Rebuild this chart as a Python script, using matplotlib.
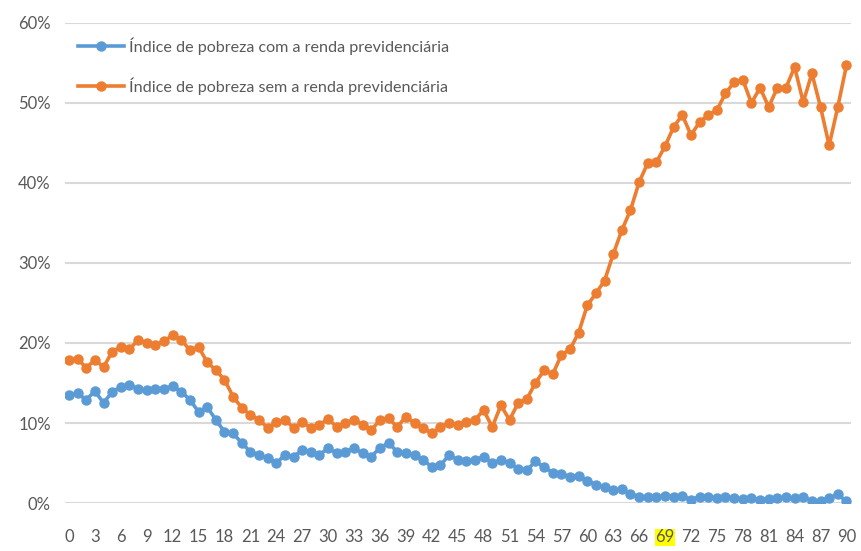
import numpy as np
import matplotlib.pyplot as plt
from matplotlib import font_manager
from matplotlib.ticker import PercentFormatter

# Lato is close to Calibri in width
names = {f.name for f in font_manager.fontManager.ttflist}
fam = 'Lato' if 'Lato' in names else 'DejaVu Sans'
plt.rcParams['font.family'] = [fam, 'DejaVu Sans']

# ages 0..90
ages = list(range(0, 91))

# poverty index with pension income (%)
com_renda = [13.5, 13.7, 12.9, 14.0, 12.5, 13.9, 14.5, 14.7, 14.3, 14.1,
             14.3, 14.3, 14.6, 13.9, 12.9, 11.4, 12.0, 10.4, 8.9, 8.7,
             7.5, 6.4, 6.0, 5.6, 5.0, 6.0, 5.8, 6.6, 6.4, 6.0,
             6.9, 6.2, 6.4, 6.9, 6.2, 5.8, 6.9, 7.5, 6.4, 6.2,
             6.0, 5.4, 4.5, 4.7, 6.0, 5.4, 5.2, 5.4, 5.8, 5.0,
             5.4, 5.0, 4.3, 4.1, 5.2, 4.5, 3.8, 3.6, 3.3, 3.4,
             2.8, 2.3, 2.0, 1.6, 1.7, 1.1, 0.8, 0.7, 0.8, 0.9,
             0.8, 0.9, 0.4, 0.8, 0.7, 0.6, 0.7, 0.6, 0.5, 0.6,
             0.4, 0.5, 0.6, 0.7, 0.6, 0.8, 0.2, 0.3, 0.6, 1.1,
             0.2]

# poverty index without pension income (%)
sem_renda = [17.9, 18.0, 16.9, 17.9, 17.0, 18.9, 19.5, 19.2, 20.4, 20.0,
             19.8, 20.2, 21.0, 20.4, 19.1, 19.5, 17.6, 16.6, 15.4, 13.3,
             11.9, 11.0, 10.4, 9.4, 10.1, 10.4, 9.4, 10.1, 9.4, 9.8,
             10.5, 9.5, 10.0, 10.4, 9.8, 9.1, 10.4, 10.6, 9.5, 10.8,
             10.0, 9.4, 8.7, 9.5, 10.0, 9.8, 10.1, 10.4, 11.6, 9.5,
             12.2, 10.4, 12.5, 13.0, 15.0, 16.6, 16.1, 18.5, 19.2, 21.3,
             24.7, 26.2, 27.8, 31.1, 34.1, 36.6, 40.1, 42.5, 42.6, 44.6,
             47.0, 48.5, 46.0, 47.6, 48.5, 49.1, 51.2, 52.6, 52.9, 50.0,
             51.9, 49.5, 51.9, 51.9, 54.5, 50.1, 53.7, 49.5, 44.7, 49.5,
             54.7]

labels = ['Índice de pobreza com a renda previdenciária',
          'Índice de pobreza sem a renda previdenciária']
colors = ['#5B9BD5', '#ED7D31']

fig = plt.figure(figsize=(8.61, 5.51), dpi=100)
ax = fig.add_axes([0.0751, 0.0871, 0.913, 0.8712])

for vals, lab, c in zip([com_renda, sem_renda], labels, colors):
    ax.plot(ages, vals, color=c, lw=2.6, marker='o', markersize=6.5,
            label=lab, zorder=3)

ax.set_xlim(-0.5, 90.5)
ax.set_ylim(0, 60)
ax.set_yticks(range(0, 61, 10))
ax.yaxis.set_major_formatter(PercentFormatter(decimals=0))
ax.set_xticks(ages[::3])
ax.grid(axis='y', color='#D9D9D9', lw=1.5, zorder=0)
ax.set_axisbelow(True)
for s in ax.spines.values():
    s.set_visible(False)
ax.tick_params(axis='both', length=0, colors='#595959', labelsize=12)
ax.tick_params(axis='x', pad=19)
ax.tick_params(axis='y', pad=10)

# the 69 label is highlighted in yellow
for t in ax.get_xticklabels():
    if t.get_text() == '69':
        t.set_bbox(dict(facecolor='#FFFF00', edgecolor='none', pad=0.5))

ax.legend(loc='upper left', bbox_to_anchor=(0.0, 0.997), frameon=False,
          fontsize=11.6, labelcolor='#595959', handlelength=2.9,
          labelspacing=1.4, handletextpad=0.3, borderaxespad=0.4)

fig.savefig('out.png', dpi=100, facecolor='white')
